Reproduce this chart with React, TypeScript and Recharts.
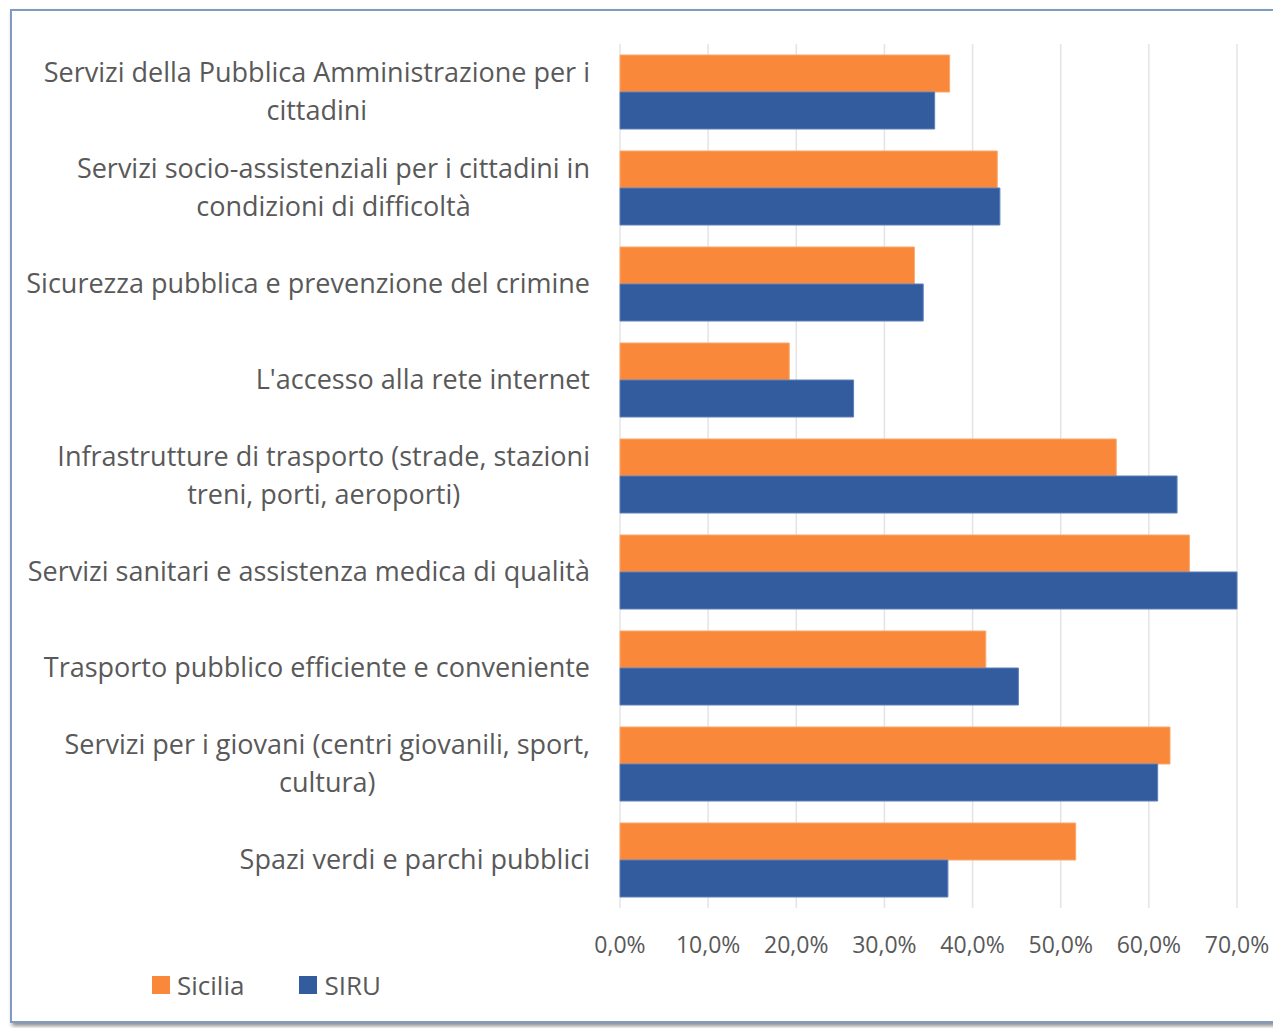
import { BarChart, Bar, XAxis, YAxis, CartesianGrid } from 'recharts';

// categories, top to bottom (\n marks where the label wraps)
const categories = [
  'Servizi della Pubblica Amministrazione per i\ncittadini',
  'Servizi socio-assistenziali per i cittadini in\ncondizioni di difficoltà',
  'Sicurezza pubblica e prevenzione del crimine',
  "L'accesso alla rete internet",
  'Infrastrutture di trasporto (strade, stazioni\ntreni, porti, aeroporti)',
  'Servizi sanitari e assistenza medica di qualità',
  'Trasporto pubblico efficiente e conveniente',
  'Servizi per i giovani (centri giovanili, sport,\ncultura)',
  'Spazi verdi e parchi pubblici',
];

const sicilia = [0.374, 0.428, 0.334, 0.192, 0.563, 0.646, 0.415, 0.624, 0.517];
const siru = [0.357, 0.431, 0.344, 0.265, 0.632, 0.700, 0.452, 0.610, 0.372];

const xTicks = [0, 0.1, 0.2, 0.3, 0.4, 0.5, 0.6, 0.7];

const ORANGE = '#F9883A';
const BLUE = '#335C9F';
const TEXT = '#595959';
const FONT = '"Open Sans", sans-serif';
const LABEL_SIZE = 27;

const chartData = categories.map((name, i) => ({
  name,
  Sicilia: sicilia[i],
  SIRU: siru[i],
}));

const formatPct = (v: number) => (v * 100).toFixed(1).replace('.', ',') + '%';

// measure text so wrapped labels can be centred as a block, right-aligned to the axis
let ctx: CanvasRenderingContext2D | null = null;
const measure = (s: string) => {
  if (!ctx) ctx = document.createElement('canvas').getContext('2d');
  if (!ctx) return s.length * LABEL_SIZE * 0.5;
  ctx.font = `${LABEL_SIZE}px "Open Sans"`;
  return ctx.measureText(s).width;
};

const YTick = ({ x, y, payload }: any) => {
  const lines = String(payload.value).split('\n');
  const lh = 38;
  const start = -((lines.length - 1) * lh) / 2;
  const right = x - 22;
  const w = Math.max(...lines.map(measure));
  const cx = right - w / 2;
  return (
    <text x={cx} y={y} textAnchor="middle" fill={TEXT} fontSize={LABEL_SIZE} fontFamily={FONT}>
      {lines.map((l, i) => (
        <tspan key={i} x={cx} y={y + start + i * lh} dy="0.35em">
          {l}
        </tspan>
      ))}
    </text>
  );
};

const XTick = ({ x, y, payload }: any) => (
  <text x={x} y={y} dy={37} textAnchor="middle" fill={TEXT} fontSize={23} fontFamily={FONT}>
    {formatPct(payload.value)}
  </text>
);

export default function App() {
  return (
    <div style={{ position: 'relative', width: 1273, height: 1028, background: '#fff', overflow: 'hidden' }}>
      <style>{'body{margin:0;}'}</style>
      <div
        style={{
          position: 'absolute',
          left: 10,
          top: 9,
          width: 1290,
          height: 1014,
          border: '2px solid #7f9cc0',
          boxShadow: '2px 3px 4px rgba(0,0,0,0.45)',
          boxSizing: 'border-box',
        }}
      />
      <div style={{ position: 'absolute', left: 0, top: 0 }}>
        <BarChart
          width={1273}
          height={1028}
          data={chartData}
          layout="vertical"
          margin={{ top: 44, right: 36, bottom: 80, left: 0 }}
          barSize={37}
          barGap={0}
        >
          <CartesianGrid horizontal={false} stroke="#e4e4e4" strokeWidth={1.5} />
          <XAxis
            type="number"
            domain={[0, 0.7]}
            ticks={xTicks}
            axisLine={false}
            tickLine={false}
            height={40}
            tick={<XTick />}
            interval={0}
          />
          <YAxis
            type="category"
            dataKey="name"
            width={620}
            axisLine={false}
            tickLine={false}
            tick={<YTick />}
            interval={0}
          />
          <Bar dataKey="Sicilia" fill={ORANGE} stroke="#fba86b" strokeWidth={1} isAnimationActive={false} />
          <Bar dataKey="SIRU" fill={BLUE} stroke="#5d7fb8" strokeWidth={1} isAnimationActive={false} />
        </BarChart>
      </div>
      <div
        style={{
          position: 'absolute',
          left: 152,
          top: 967,
          display: 'flex',
          alignItems: 'center',
          fontFamily: FONT,
          fontSize: 26,
          color: TEXT,
        }}
      >
        <span style={{ width: 18, height: 18, background: ORANGE, display: 'inline-block', marginRight: 7 }} />
        <span style={{ marginRight: 55 }}>Sicilia</span>
        <span style={{ width: 18, height: 18, background: BLUE, display: 'inline-block', marginRight: 7 }} />
        <span>SIRU</span>
      </div>
    </div>
  );
}
